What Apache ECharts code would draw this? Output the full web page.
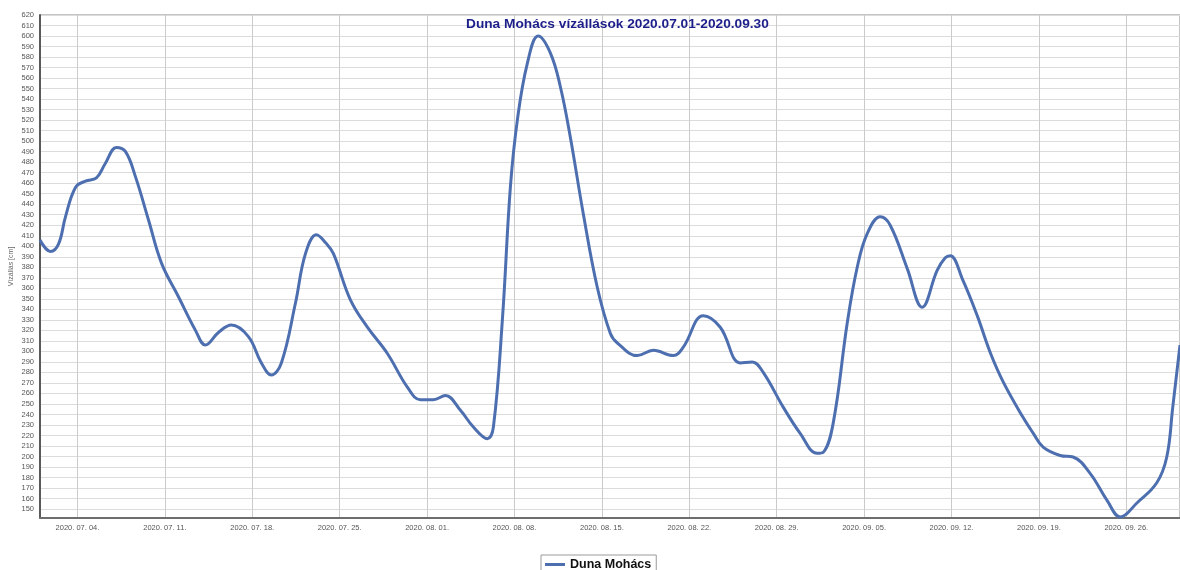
<!DOCTYPE html>
<html>
<head>
<meta charset="utf-8">
<script src="https://cdn.jsdelivr.net/npm/echarts@6/dist/echarts.min.js"></script>
<style>
  html, body { margin: 0; padding: 0; background: #fff; }
  #chart { width: 1180px; height: 570px; }
</style>
</head>
<body>
<div id="chart"></div>
<script>
// Water level at Mohács (Danube), 2020.07.01 – 2020.09.30
// Offsets are days counted from 2020-07-01 00:00; levels in cm.
const dayOffsets = [
  0, 0.84, 1.48, 2.04, 2.84, 3.64, 4.52, 5.24, 6.12, 6.85, 7.65, 8.69, 9.73,
  11.09, 12.45, 13.25, 14.29, 15.33, 16.69, 17.73, 18.53, 19.33, 20.46, 21.26,
  22.14, 22.9, 23.5, 24.86, 26.22, 27.82, 29.42, 30.46, 31.5, 32.47, 33.67,
  34.71, 35.83, 36.31, 37.03, 37.67, 38.23, 39.03, 39.9, 40.87, 41.67, 42.47,
  43.51, 44.63, 45.68, 46.24, 47.84, 49.12, 50.72, 51.52, 53.12, 54.48, 56.08,
  57.04, 57.92, 59.52, 60.88, 62.24, 62.73, 63.53, 64.65, 65.45, 66.25, 67.29,
  68.09, 69.45, 70.65, 71.85, 72.5, 72.9, 73.9, 75.06, 76.1, 77.14, 78.74,
  79.55, 80.34, 81.7, 82.74, 84.1, 85.47, 86.51, 87.87, 89.44, 90.24, 90.72, 91.3
];
const levels = [
  406, 395, 402, 428, 456, 462, 465, 479, 494, 490, 466, 425, 384,
  352, 320, 306, 318, 325, 314, 289, 277.5, 289, 346, 393,
  411, 403, 393, 349, 323, 298, 266, 254, 254, 258, 244,
  228, 217, 228, 330, 456, 520, 574, 600, 584, 552, 504,
  431, 361, 317, 308, 296, 301, 296, 304, 334, 323, 289,
  290, 280, 247, 222, 203, 204, 232, 327, 380, 412, 428,
  420, 379, 342, 377, 389, 391, 368, 334, 299, 271, 237,
  222, 209, 201, 199.5, 184, 158, 142.5, 156, 175, 199.5, 247, 306
];
// Weekly grid lines / date labels (day offsets from 2020-07-01)
const weekTicks = [3, 10, 17, 24, 31, 38, 45, 52, 59, 66, 73, 80, 87];
// Level tick labels (cm)
const levelTicks = [
  150, 160, 170, 180, 190, 200, 210, 220, 230, 240, 250, 260, 270, 280, 290,
  300, 310, 320, 330, 340, 350, 360, 370, 380, 390, 400, 410, 420, 430, 440,
  450, 460, 470, 480, 490, 500, 510, 520, 530, 540, 550, 560, 570, 580, 590,
  600, 610, 620
];
const seriesName = 'Duna Mohács';
const titleText = 'Duna Mohács vízállások 2020.07.01-2020.09.30';
const yAxisName = 'Vízállás [cm]';

const DAY = 86400000;
const start = new Date(2020, 6, 1).getTime();
const pad = n => (n < 10 ? '0' : '') + n;
const dayLabel = d => {
  const dt = new Date(start + Math.round(d) * DAY);
  return dt.getFullYear() + '. ' + pad(dt.getMonth() + 1) + '. ' + pad(dt.getDate()) + '.';
};

const seriesData = dayOffsets.map((d, i) => [d, levels[i]]);

const chart = echarts.init(document.getElementById('chart'), null, { renderer: 'canvas' });
chart.setOption({
  animation: false,
  backgroundColor: '#ffffff',
  title: {
    text: titleText,
    left: 466,
    top: 17,
    padding: 0,
    textStyle: {
      color: '#1c1f8a',
      fontFamily: 'Liberation Sans, Arial, sans-serif',
      fontWeight: 'bold',
      fontSize: 13.7
    }
  },
  grid: {
    left: 40,
    right: 0,
    top: 15,
    bottom: 52,
    containLabel: false,
    outerBoundsMode: 'none',
    show: true,
    borderColor: '#8a8a8a',
    borderWidth: 1
  },
  legend: {
    left: 541,
    top: 555,
    padding: [3, 5, 8, 4],
    borderColor: '#9a9a9a',
    borderWidth: 1,
    itemWidth: 20,
    itemHeight: 3,
    itemGap: 4,
    icon: 'rect',
    textStyle: {
      color: '#111',
      fontFamily: 'Liberation Sans, Arial, sans-serif',
      fontWeight: 'bold',
      fontSize: 12.5
    },
    data: [seriesName]
  },
  xAxis: {
    type: 'value',
    min: 0,
    max: 91.3,
    axisLine: { show: true, onZero: false, lineStyle: { color: '#6e6e6e', width: 2 } },
    axisTick: { show: false, customValues: weekTicks },
    axisLabel: {
      customValues: weekTicks,
      color: '#555',
      fontSize: 7.5,
      fontFamily: 'Liberation Sans, Arial, sans-serif',
      margin: 6,
      formatter: v => dayLabel(v)
    },
    splitLine: { show: true, lineStyle: { color: '#cbcbcb', width: 1 } }
  },
  yAxis: {
    type: 'value',
    min: 141.5,
    max: 620,
    name: yAxisName,
    nameLocation: 'middle',
    nameGap: 25,
    nameMoveOverlap: false,
    nameTextStyle: {
      color: '#666',
      fontSize: 7,
      fontFamily: 'Liberation Sans, Arial, sans-serif'
    },
    axisLine: { show: true, onZero: false, lineStyle: { color: '#5a5a5a', width: 2 } },
    axisTick: { show: false, customValues: levelTicks },
    axisLabel: {
      customValues: levelTicks,
      color: '#555',
      fontSize: 7.5,
      fontFamily: 'Liberation Sans, Arial, sans-serif',
      margin: 6
    },
    splitLine: { show: true, lineStyle: { color: '#dcdcdc', width: 1 } }
  },
  series: [{
    name: seriesName,
    type: 'line',
    data: seriesData,
    smooth: 0.4,
    showSymbol: false,
    symbol: 'none',
    lineStyle: { color: '#4d6fb0', width: 3 },
    itemStyle: { color: '#4d6fb0' }
  }]
});
</script>
</body>
</html>
